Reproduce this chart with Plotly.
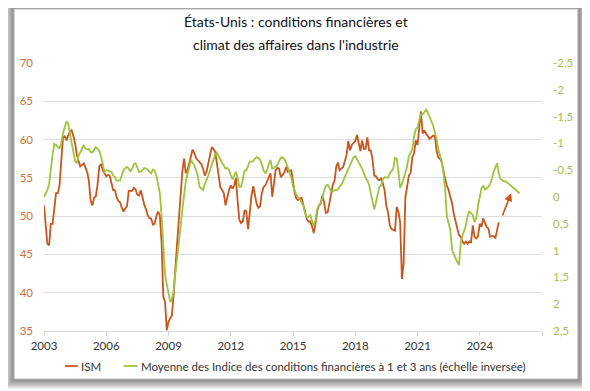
import pandas as pd
import plotly.graph_objects as go

# ISM manufacturing index, monthly from Jan 2003 to Dec 2024
ism = [
    51.4, 48.5, 46.4, 46.2, 49.0, 49.0, 51.2, 53.0, 53.0, 54.0, 57.2, 60.2,
    60.5, 59.9, 60.5, 61.0, 61.2, 60.5, 59.5, 58.0, 57.2, 56.5, 56.7, 56.9,
    56.3, 55.7, 54.6, 52.0, 51.4, 52.4, 52.6, 54.1, 56.5, 56.8, 56.0, 55.5,
    55.2, 55.4, 55.3, 54.4, 53.4, 53.4, 52.5, 52.0, 51.8, 51.1, 50.6, 51.0,
    51.3, 53.3, 53.3, 53.3, 53.7, 53.5, 52.8, 52.7, 53.4, 52.3, 51.5, 50.9,
    50.1, 49.7, 49.7, 48.9, 49.0, 50.0, 50.6, 50.1, 46.5, 39.5, 38.8, 35.1,
    36.2, 36.7, 37.0, 39.8, 43.8, 46.5, 49.5, 53.4, 55.8, 57.5, 55.6, 56.0,
    56.9, 58.0, 58.7, 58.2, 57.6, 57.3, 57.1, 56.8, 56.2, 55.3, 55.8, 57.0,
    58.0, 59.0, 58.8, 58.4, 57.0, 55.6, 53.8, 53.4, 53.0, 51.4, 52.5, 53.4,
    54.0, 53.6, 54.0, 55.0, 52.0, 49.5, 49.1, 49.3, 50.8, 50.6, 48.3, 50.8,
    52.7, 53.9, 52.6, 51.6, 51.1, 51.3, 53.0, 53.8, 54.0, 54.6, 55.2, 55.6,
    52.5, 54.5, 56.0, 56.3, 56.2, 55.1, 55.4, 55.7, 56.4, 55.8, 55.9, 56.0,
    54.5, 53.0, 52.3, 52.1, 52.3, 52.4, 51.5, 50.5, 49.6, 49.3, 49.3, 48.7,
    47.8, 49.0, 50.6, 51.4, 51.6, 52.7, 51.8, 50.4, 50.5, 51.6, 53.0, 54.1,
    54.6, 56.5, 57.0, 56.0, 56.2, 56.4, 57.2, 58.0, 59.8, 58.6, 59.3, 59.5,
    59.8, 60.6, 59.5, 58.5, 59.9, 58.8, 58.8, 60.3, 58.6, 58.6, 57.4, 55.3,
    55.2, 54.8, 54.7, 54.9, 54.3, 53.4, 51.4, 50.5, 48.8, 48.3, 48.2, 48.1,
    51.2, 50.5, 49.2, 41.8, 43.8, 52.5, 53.8, 55.3, 55.6, 57.7, 58.2, 59.9,
    59.3, 61.2, 63.7, 60.8, 61.2, 60.8, 60.5, 60.1, 60.3, 60.5, 60.5, 58.6,
    57.7, 57.5, 57.1, 55.8, 54.9, 54.0, 53.4, 52.5, 51.7, 50.3, 49.5, 48.4,
    47.5, 47.3, 46.7, 46.4, 46.7, 46.4, 46.7, 46.6, 48.8, 47.3, 47.1, 47.4,
    49.0, 48.6, 49.7, 49.0, 48.6, 48.4, 47.3, 47.4, 47.4, 47.1, 48.2, 49.2,
]

# Average of 1y and 3y financial conditions indices (right axis, inverted), Jan 2003 to Dec 2025
fci = [
    0.00, -0.06, -0.13, -0.24, -0.57, -0.79, -0.99, -0.97, -0.93, -0.91, -1.00, -1.19,
    -1.30, -1.41, -1.37, -1.21, -1.01, -0.84, -0.67, -0.64, -0.77, -0.84, -0.93, -0.97,
    -0.90, -0.89, -0.90, -0.84, -0.83, -0.87, -0.93, -0.90, -0.86, -0.76, -0.61, -0.47,
    -0.50, -0.49, -0.47, -0.47, -0.40, -0.37, -0.31, -0.30, -0.31, -0.40, -0.50, -0.54,
    -0.56, -0.53, -0.47, -0.53, -0.61, -0.63, -0.53, -0.47, -0.47, -0.51, -0.54, -0.53,
    -0.51, -0.47, -0.44, -0.51, -0.50, -0.40, -0.24, -0.07, 0.36, 1.00, 1.44, 1.63,
    1.77, 1.96, 1.90, 1.76, 1.43, 1.16, 0.87, 0.56, 0.24, -0.07, -0.29, -0.43,
    -0.54, -0.69, -0.64, -0.59, -0.50, -0.39, -0.19, -0.16, -0.13, -0.24, -0.31, -0.40,
    -0.50, -0.59, -0.67, -0.79, -0.83, -0.76, -0.71, -0.64, -0.59, -0.53, -0.54, -0.51,
    -0.41, -0.33, -0.40, -0.47, -0.36, -0.19, -0.19, -0.33, -0.49, -0.50, -0.60, -0.66,
    -0.66, -0.67, -0.71, -0.74, -0.73, -0.69, -0.61, -0.50, -0.44, -0.50, -0.61, -0.69,
    -0.53, -0.54, -0.57, -0.59, -0.67, -0.73, -0.74, -0.71, -0.64, -0.56, -0.46, -0.36,
    -0.20, -0.11, -0.04, 0.01, 0.04, 0.10, 0.16, 0.29, 0.37, 0.37, 0.34, 0.44,
    0.54, 0.43, 0.23, 0.17, 0.10, 0.03, -0.11, -0.21, -0.23, -0.16, -0.11, -0.10,
    -0.13, -0.13, -0.14, -0.19, -0.23, -0.30, -0.37, -0.43, -0.50, -0.57, -0.67, -0.74,
    -0.76, -0.69, -0.64, -0.59, -0.53, -0.43, -0.36, -0.31, -0.23, -0.07, 0.06, 0.23,
    0.10, -0.04, -0.19, -0.21, -0.33, -0.37, -0.36, -0.36, -0.44, -0.49, -0.53, -0.73,
    -0.71, -0.47, -0.17, -0.24, -0.36, -0.46, -0.57, -0.76, -0.83, -0.89, -1.13, -1.26,
    -1.30, -1.44, -1.54, -1.54, -1.59, -1.63, -1.57, -1.49, -1.39, -1.34, -1.21, -1.09,
    -0.90, -0.79, -0.67, -0.47, -0.16, 0.36, 0.50, 0.61, 0.99, 1.07, 1.13, 1.21,
    1.27, 0.86, 0.73, 0.63, 0.53, 0.36, 0.27, 0.30, 0.34, 0.47, 0.39, 0.17,
    -0.01, -0.16, -0.21, -0.14, -0.16, -0.19, -0.24, -0.33, -0.47, -0.57, -0.63, -0.44,
    -0.34, -0.31, -0.29, -0.29, -0.27, -0.24, -0.21, -0.19, -0.16, -0.13, -0.09, -0.07,
]

start_month = "2003-01-01"
x_tick_vals = ["2003-01-01", "2006-01-01", "2009-01-01", "2012-01-01", "2015-01-01",
               "2018-01-01", "2021-01-01", "2024-01-01", "2027-01-01"]
x_tick_text = ["2003", "2006", "2009", "2012", "2015", "2018", "2021", "2024", ""]
left_tick_vals = [35, 40, 45, 50, 55, 60, 65, 70]
right_tick_vals = [-2.5, -2, -1.5, -1, -0.5, 0, 0.5, 1, 1.5, 2, 2.5]
right_tick_text = ["-2,5", "-2", "-1,5", "-1", "-0,5", "0", "0,5", "1", "1,5", "2", "2,5"]

title_lines = ["États-Unis : conditions financières et",
               "climat des affaires dans l'industrie"]
name_ism = "ISM"
name_fci = "Moyenne des Indice des conditions financières à 1 et 3 ans (échelle inversée)"

# arrow: expected ISM rebound
arrow_start = ("2025-01-25", 49.9)
arrow_end = ("2025-07-08", 53.0)

ORANGE = "#C8551B"
GREEN = "#9DC43C"
FONT = "Lato, 'Open Sans', sans-serif"

dates_ism = pd.date_range(start_month, periods=len(ism), freq="MS")
dates_fci = pd.date_range(start_month, periods=len(fci), freq="MS")

fig = go.Figure()
fig.add_trace(go.Scatter(x=dates_ism, y=ism, mode="lines", name=name_ism,
                         line=dict(color=ORANGE, width=1.8), yaxis="y"))
fig.add_trace(go.Scatter(x=dates_fci, y=fci, mode="lines", name=name_fci,
                         line=dict(color=GREEN, width=1.8), yaxis="y2"))

# the page places the figure 8px from the top-left corner (body margin)
OFF = 8
W, H = 590, 391
plot_left, plot_top, plot_w, plot_h = 42, 63, 500, 268   # target page coordinates
ml, mt = plot_left - OFF, plot_top - OFF
mr = W - ml - plot_w
mb = H - mt - plot_h


def px(x):
    return (x - plot_left) / plot_w


def py(y):
    return (plot_top + plot_h - y) / plot_h


shapes = []
# soft shadow around the card
for i in range(10, 0, -1):
    shapes.append(dict(type="rect", xref="paper", yref="paper",
                       x0=px(12 - i), x1=px(578 + i), y0=py(379 + i), y1=py(9 - i),
                       line=dict(width=0), fillcolor="rgba(0,0,0,0.055)", layer="below"))
shapes.append(dict(type="rect", xref="paper", yref="paper",
                   x0=px(12), x1=px(578), y0=py(379), y1=py(9),
                   line=dict(width=1, color="#BDBDBD"), fillcolor="white", layer="below"))

# custom legend samples
leg_y = py(366)
shapes.append(dict(type="line", xref="paper", yref="paper", x0=px(63), x1=px(76),
                   y0=leg_y, y1=leg_y, line=dict(color=ORANGE, width=1.8)))
shapes.append(dict(type="line", xref="paper", yref="paper", x0=px(122), x1=px(136),
                   y0=leg_y, y1=leg_y, line=dict(color=GREEN, width=1.8)))

annotations = [
    dict(text=title_lines[0], xref="paper", yref="paper", x=px(295), y=py(22),
         showarrow=False, font=dict(family=FONT, size=14, color="#111"),
         xanchor="center", yanchor="middle"),
    dict(text=title_lines[1], xref="paper", yref="paper", x=px(295), y=py(44),
         showarrow=False, font=dict(family=FONT, size=14, color="#111"),
         xanchor="center", yanchor="middle"),
    dict(text=name_ism, xref="paper", yref="paper", x=px(77), y=leg_y,
         showarrow=False, font=dict(family=FONT, size=11.5, color="#333"),
         xanchor="left", yanchor="middle"),
    dict(text=name_fci, xref="paper", yref="paper", x=px(137), y=leg_y,
         showarrow=False, font=dict(family=FONT, size=11.5, color="#333"),
         xanchor="left", yanchor="middle"),
    dict(x=arrow_end[0], y=arrow_end[1], ax=arrow_start[0], ay=arrow_start[1],
         xref="x", yref="y", axref="x", ayref="y", text="", showarrow=True,
         arrowhead=2, arrowsize=1, arrowwidth=1.6, arrowcolor=ORANGE),
]

fig.update_layout(
    width=W, height=H,
    margin=dict(l=ml, r=mr, t=mt, b=mb),
    paper_bgcolor="white", plot_bgcolor="rgba(0,0,0,0)",
    showlegend=False,
    font=dict(family=FONT, size=11.5, color="#333"),
    shapes=shapes, annotations=annotations,
    xaxis=dict(type="date", range=["2003-01-01", "2027-01-01"],
               tickvals=x_tick_vals, ticktext=x_tick_text,
               showgrid=False, showline=True, linecolor="#D9D9D9", linewidth=1,
               ticks="outside", ticklen=4, tickcolor="#D9D9D9",
               tickfont=dict(family=FONT, size=11.5, color="#333"), zeroline=False),
    yaxis=dict(range=[35, 70], tickvals=left_tick_vals, showgrid=True,
               gridcolor="#DEDEDE", gridwidth=1, zeroline=False, showline=False,
               ticklabelstandoff=10,
               tickfont=dict(family=FONT, size=11.5, color="#CF7040")),
    yaxis2=dict(range=[2.5, -2.5], overlaying="y", side="right",
                tickvals=right_tick_vals, ticktext=right_tick_text,
                showgrid=False, zeroline=False, showline=False,
                ticklabelstandoff=10,
                tickfont=dict(family=FONT, size=11.5, color="#A9BD5A")),
)

fig.write_html("out.html")
